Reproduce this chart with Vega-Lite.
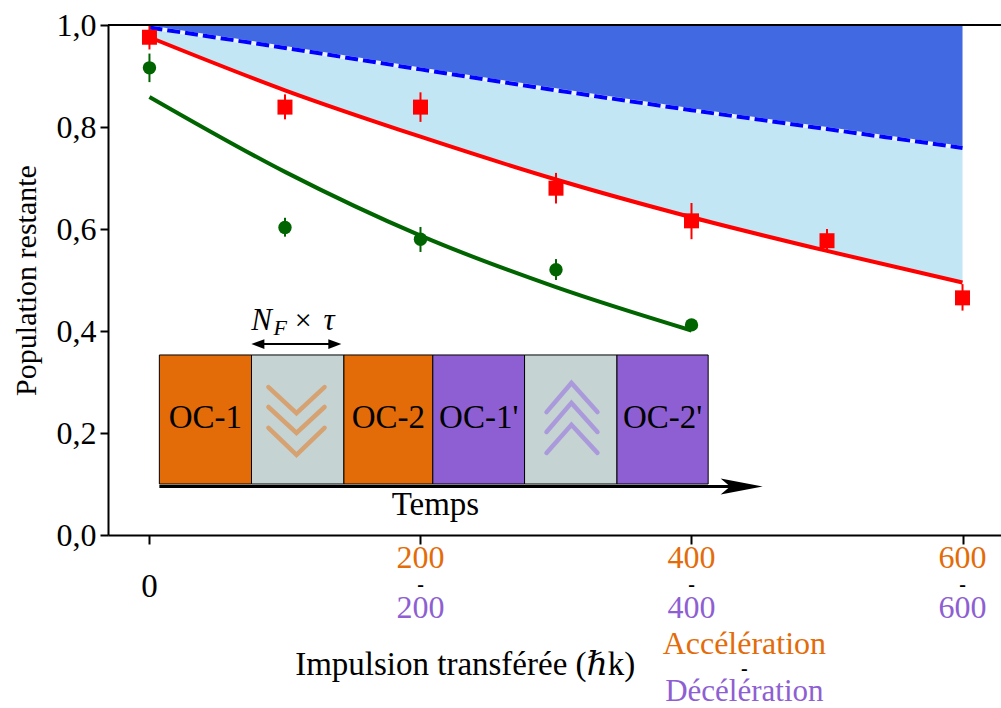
{
  "$schema": "https://vega.github.io/schema/vega-lite/v6.json",
  "autosize": "none",
  "width": 893,
  "height": 510,
  "padding": {"left": 108, "top": 25, "right": 0, "bottom": 173},
  "background": "white",
  "data": {"values": [{}]},
  "config": {
    "view": {"stroke": null},
    "font": "'Liberation Serif', 'Times New Roman', 'DejaVu Serif', serif",
    "text": {"font": "'Liberation Serif', 'Times New Roman', 'DejaVu Serif', serif"},
    "axis": {"labelFont": "'Liberation Serif', 'Times New Roman', serif", "titleFont": "'Liberation Serif', 'Times New Roman', serif"}
  },
  "datasets": {
    "curves": [
      {"x": 0, "red": 0.976, "blue": 0.995, "top": 1.0},
      {"x": 100, "red": 0.872, "blue": 0.955, "top": 1.0},
      {"x": 200, "red": 0.781, "blue": 0.913, "top": 1.0},
      {"x": 300, "red": 0.697, "blue": 0.872, "top": 1.0},
      {"x": 400, "red": 0.623, "blue": 0.833, "top": 1.0},
      {"x": 500, "red": 0.557, "blue": 0.796, "top": 1.0},
      {"x": 600, "red": 0.495, "blue": 0.759, "top": 1.0}
    ],
    "green": [
      {"x": 0, "y": 0.859},
      {"x": 100, "y": 0.712},
      {"x": 200, "y": 0.587},
      {"x": 300, "y": 0.486},
      {"x": 400, "y": 0.401}
    ],
    "redpts": [
      {"x": 0, "y": 0.976, "lo": 0.952, "hi": 1.0},
      {"x": 100, "y": 0.839, "lo": 0.815, "hi": 0.864},
      {"x": 200, "y": 0.839, "lo": 0.81, "hi": 0.868},
      {"x": 300, "y": 0.68, "lo": 0.65, "hi": 0.71},
      {"x": 400, "y": 0.616, "lo": 0.58, "hi": 0.651},
      {"x": 500, "y": 0.577, "lo": 0.555, "hi": 0.6},
      {"x": 600, "y": 0.465, "lo": 0.44, "hi": 0.492}
    ],
    "greenpts": [
      {"x": 0, "y": 0.916, "lo": 0.888, "hi": 0.944},
      {"x": 100, "y": 0.603, "lo": 0.585, "hi": 0.622},
      {"x": 200, "y": 0.58, "lo": 0.555, "hi": 0.604},
      {"x": 300, "y": 0.52, "lo": 0.5, "hi": 0.541},
      {"x": 400, "y": 0.412, "lo": 0.405, "hi": 0.42}
    ],
    "boxes": [
      {"a": 7.3, "b": 75.3, "mid": 41.3, "k": "acc", "label": "OC-1"},
      {"a": 75.3, "b": 143.5, "mid": 109.4, "k": "gap", "label": ""},
      {"a": 143.5, "b": 209.1, "mid": 176.3, "k": "acc", "label": "OC-2"},
      {"a": 209.1, "b": 276.8, "mid": 243.0, "k": "dec", "label": "OC-1'"},
      {"a": 276.8, "b": 345.0, "mid": 310.9, "k": "gap", "label": ""},
      {"a": 345.0, "b": 412.3, "mid": 378.7, "k": "dec", "label": "OC-2'"}
    ],
    "chevrons": [
      {"c": 1, "k": "down", "o": 1, "x": 87.8, "y": 0.29},
      {"c": 1, "k": "down", "o": 2, "x": 108.5, "y": 0.239},
      {"c": 1, "k": "down", "o": 3, "x": 129.2, "y": 0.29},
      {"c": 2, "k": "down", "o": 1, "x": 87.8, "y": 0.251},
      {"c": 2, "k": "down", "o": 2, "x": 108.5, "y": 0.2},
      {"c": 2, "k": "down", "o": 3, "x": 129.2, "y": 0.251},
      {"c": 3, "k": "down", "o": 1, "x": 87.8, "y": 0.21},
      {"c": 3, "k": "down", "o": 2, "x": 108.5, "y": 0.157},
      {"c": 3, "k": "down", "o": 3, "x": 129.2, "y": 0.21},
      {"c": 4, "k": "up", "o": 1, "x": 293.0, "y": 0.241},
      {"c": 4, "k": "up", "o": 2, "x": 311.4, "y": 0.298},
      {"c": 4, "k": "up", "o": 3, "x": 330.6, "y": 0.241},
      {"c": 5, "k": "up", "o": 1, "x": 293.0, "y": 0.202},
      {"c": 5, "k": "up", "o": 2, "x": 311.4, "y": 0.259},
      {"c": 5, "k": "up", "o": 3, "x": 330.6, "y": 0.202},
      {"c": 6, "k": "up", "o": 1, "x": 293.0, "y": 0.161},
      {"c": 6, "k": "up", "o": 2, "x": 311.4, "y": 0.216},
      {"c": 6, "k": "up", "o": 3, "x": 330.6, "y": 0.161}
    ],
    "ticklabels": [
      {"x": 200, "t": "200"},
      {"x": 400, "t": "400"},
      {"x": 600, "t": "600"}
    ]
  },
  "layer": [
    {
      "data": {"name": "curves"},
      "mark": {"type": "area", "color": "#4169e1", "interpolate": "monotone"},
      "encoding": {
        "x": {"field": "x", "type": "quantitative", "scale": {"domain": [-30.6, 628.4], "nice": false, "zero": false},
          "axis": {"values": [0, 200, 400, 600], "labels": false, "title": null, "domainColor": "black", "domainWidth": 2, "tickColor": "black", "tickWidth": 2, "tickSize": 9, "grid": false}},
        "y": {"field": "blue", "type": "quantitative", "scale": {"domain": [0, 1], "nice": false},
          "axis": {"values": [0, 0.2, 0.4, 0.6, 0.8, 1.0], "labelExpr": "replace(format(datum.value, '.1f'), '.', ',')", "labelFontSize": 32, "labelColor": "black", "labelPadding": 4, "title": "Population restante", "titleFontSize": 30, "titleFontWeight": "normal", "titleColor": "black", "titlePadding": 15, "domainColor": "black", "domainWidth": 2, "tickColor": "black", "tickWidth": 2, "tickSize": 8, "grid": false}},
        "y2": {"field": "top"}
      }
    },
    {
      "data": {"name": "curves"},
      "mark": {"type": "area", "color": "#c2e6f4", "interpolate": "monotone"},
      "encoding": {
        "x": {"field": "x", "type": "quantitative"},
        "y": {"field": "red", "type": "quantitative"},
        "y2": {"field": "blue"}
      }
    },
    {
      "data": {"name": "curves"},
      "mark": {"type": "line", "color": "#e8f4fa", "strokeWidth": 4, "interpolate": "monotone"},
      "encoding": {
        "x": {"field": "x", "type": "quantitative"},
        "y": {"field": "blue", "type": "quantitative"}
      }
    },
    {
      "data": {"name": "curves"},
      "mark": {"type": "line", "color": "#0000ff", "strokeWidth": 4, "strokeDash": [13, 5], "interpolate": "monotone"},
      "encoding": {
        "x": {"field": "x", "type": "quantitative"},
        "y": {"field": "blue", "type": "quantitative"}
      }
    },
    {
      "data": {"name": "curves"},
      "mark": {"type": "line", "color": "#ff0000", "strokeWidth": 4, "interpolate": "monotone"},
      "encoding": {
        "x": {"field": "x", "type": "quantitative"},
        "y": {"field": "red", "type": "quantitative"}
      }
    },
    {
      "data": {"name": "green"},
      "mark": {"type": "line", "color": "#006400", "strokeWidth": 4, "interpolate": "monotone"},
      "encoding": {
        "x": {"field": "x", "type": "quantitative"},
        "y": {"field": "y", "type": "quantitative"}
      }
    },
    {
      "data": {"name": "redpts"},
      "mark": {"type": "rule", "color": "#ff0000", "strokeWidth": 2},
      "encoding": {
        "x": {"field": "x", "type": "quantitative"},
        "y": {"field": "lo", "type": "quantitative"},
        "y2": {"field": "hi"}
      }
    },
    {
      "data": {"name": "redpts"},
      "mark": {"type": "point", "shape": "square", "filled": true, "color": "#ff0000", "size": 225, "opacity": 1},
      "encoding": {
        "x": {"field": "x", "type": "quantitative"},
        "y": {"field": "y", "type": "quantitative"}
      }
    },
    {
      "data": {"name": "greenpts"},
      "mark": {"type": "rule", "color": "#006400", "strokeWidth": 2},
      "encoding": {
        "x": {"field": "x", "type": "quantitative"},
        "y": {"field": "lo", "type": "quantitative"},
        "y2": {"field": "hi"}
      }
    },
    {
      "data": {"name": "greenpts"},
      "mark": {"type": "point", "shape": "circle", "filled": true, "color": "#006400", "size": 180, "opacity": 1},
      "encoding": {
        "x": {"field": "x", "type": "quantitative"},
        "y": {"field": "y", "type": "quantitative"}
      }
    },
    {
      "mark": {"type": "rule", "color": "black", "strokeWidth": 2},
      "encoding": {"y": {"datum": 1}}
    },
    {
      "data": {"name": "boxes"},
      "mark": {"type": "rect", "stroke": "black", "strokeWidth": 1},
      "encoding": {
        "x": {"field": "a", "type": "quantitative"},
        "x2": {"field": "b"},
        "y": {"datum": 0.1},
        "y2": {"datum": 0.353},
        "fill": {"field": "k", "type": "nominal", "scale": {"domain": ["acc", "gap", "dec"], "range": ["#e36c09", "#c5d3d3", "#8e5fd2"]}, "legend": null}
      }
    },
    {
      "data": {"name": "chevrons"},
      "mark": {"type": "line", "strokeWidth": 4.5, "strokeCap": "round", "strokeJoin": "miter"},
      "encoding": {
        "x": {"field": "x", "type": "quantitative"},
        "y": {"field": "y", "type": "quantitative"},
        "detail": {"field": "c", "type": "nominal"},
        "order": {"field": "o", "type": "quantitative"},
        "stroke": {"field": "k", "type": "nominal", "scale": {"domain": ["down", "up"], "range": ["#d6a272", "#aa9adb"]}, "legend": null}
      }
    },
    {
      "data": {"name": "boxes"},
      "mark": {"type": "text", "fontSize": 33, "color": "black", "baseline": "middle", "align": "center"},
      "encoding": {
        "x": {"field": "mid", "type": "quantitative"},
        "y": {"datum": 0.229},
        "text": {"field": "label"}
      }
    },
    {
      "mark": {"type": "rule", "color": "black", "strokeWidth": 3},
      "encoding": {"x": {"datum": 7.3}, "x2": {"datum": 432}, "y": {"datum": 0.095}}
    },
    {
      "mark": {"type": "point", "shape": "M1,0 L-1,-0.38 L-0.55,0 L-1,0.38 Z", "filled": true, "color": "black", "size": 1764, "opacity": 1},
      "encoding": {"x": {"datum": 437}, "y": {"datum": 0.095}}
    },
    {
      "mark": {"type": "text", "fontSize": 33, "color": "black", "baseline": "middle", "align": "center"},
      "encoding": {"x": {"datum": 211}, "y": {"datum": 0.058}, "text": {"value": "Temps"}}
    },
    {
      "mark": {"type": "rule", "color": "black", "strokeWidth": 2},
      "encoding": {"x": {"datum": 78}, "x2": {"datum": 139}, "y": {"datum": 0.3745}}
    },
    {
      "mark": {"type": "point", "shape": "M-1,0 L1,-0.75 L1,0.75 Z", "filled": true, "color": "black", "size": 169, "opacity": 1},
      "encoding": {"x": {"datum": 80.0}, "y": {"datum": 0.3745}}
    },
    {
      "mark": {"type": "point", "shape": "M1,0 L-1,-0.75 L-1,0.75 Z", "filled": true, "color": "black", "size": 169, "opacity": 1},
      "encoding": {"x": {"datum": 136.8}, "y": {"datum": 0.3745}}
    },
    {
      "mark": {"type": "text", "fontSize": 31, "fontStyle": "italic", "color": "black", "baseline": "middle", "align": "center"},
      "encoding": {"x": {"datum": 82.7}, "y": {"datum": 0.42}, "text": {"value": "N"}}
    },
    {
      "mark": {"type": "text", "fontSize": 22, "fontStyle": "italic", "color": "black", "baseline": "middle", "align": "center"},
      "encoding": {"x": {"datum": 96.5}, "y": {"datum": 0.405}, "text": {"value": "F"}}
    },
    {
      "mark": {"type": "text", "fontSize": 30, "color": "black", "baseline": "middle", "align": "center"},
      "encoding": {"x": {"datum": 113.5}, "y": {"datum": 0.42}, "text": {"value": "×"}}
    },
    {
      "mark": {"type": "text", "fontSize": 31, "fontStyle": "italic", "color": "black", "baseline": "middle", "align": "center"},
      "encoding": {"x": {"datum": 132.5}, "y": {"datum": 0.42}, "text": {"value": "τ"}}
    },
    {
      "data": {"name": "ticklabels"},
      "mark": {"type": "text", "fontSize": 32, "color": "#e36c09", "baseline": "middle", "align": "center", "dy": 23},
      "encoding": {"x": {"field": "x", "type": "quantitative"}, "y": {"datum": 0}, "text": {"field": "t"}}
    },
    {
      "data": {"name": "ticklabels"},
      "mark": {"type": "text", "fontSize": 20, "fontWeight": "bold", "color": "black", "baseline": "middle", "align": "center", "dy": 50},
      "encoding": {"x": {"field": "x", "type": "quantitative"}, "y": {"datum": 0}, "text": {"value": "-"}}
    },
    {
      "data": {"name": "ticklabels"},
      "mark": {"type": "text", "fontSize": 32, "color": "#8e5fd2", "baseline": "middle", "align": "center", "dy": 73},
      "encoding": {"x": {"field": "x", "type": "quantitative"}, "y": {"datum": 0}, "text": {"field": "t"}}
    },
    {
      "mark": {"type": "text", "fontSize": 33, "color": "black", "baseline": "middle", "align": "center", "dy": 52},
      "encoding": {"x": {"datum": 0}, "y": {"datum": 0}, "text": {"value": "0"}}
    },
    {
      "mark": {"type": "text", "fontSize": 33, "color": "black", "baseline": "middle", "align": "center", "dy": 130},
      "encoding": {"x": {"datum": 233}, "y": {"datum": 0}, "text": {"value": "Impulsion transférée (ℏk)"}}
    },
    {
      "mark": {"type": "text", "fontSize": 32, "color": "#e36c09", "baseline": "middle", "align": "center", "dy": 109},
      "encoding": {"x": {"datum": 439}, "y": {"datum": 0}, "text": {"value": "Accélération"}}
    },
    {
      "mark": {"type": "text", "fontSize": 20, "fontWeight": "bold", "color": "black", "baseline": "middle", "align": "center", "dy": 134},
      "encoding": {"x": {"datum": 439}, "y": {"datum": 0}, "text": {"value": "-"}}
    },
    {
      "mark": {"type": "text", "fontSize": 31, "color": "#8e5fd2", "baseline": "middle", "align": "center", "dy": 157},
      "encoding": {"x": {"datum": 439}, "y": {"datum": 0}, "text": {"value": "Décélération"}}
    }
  ]
}
